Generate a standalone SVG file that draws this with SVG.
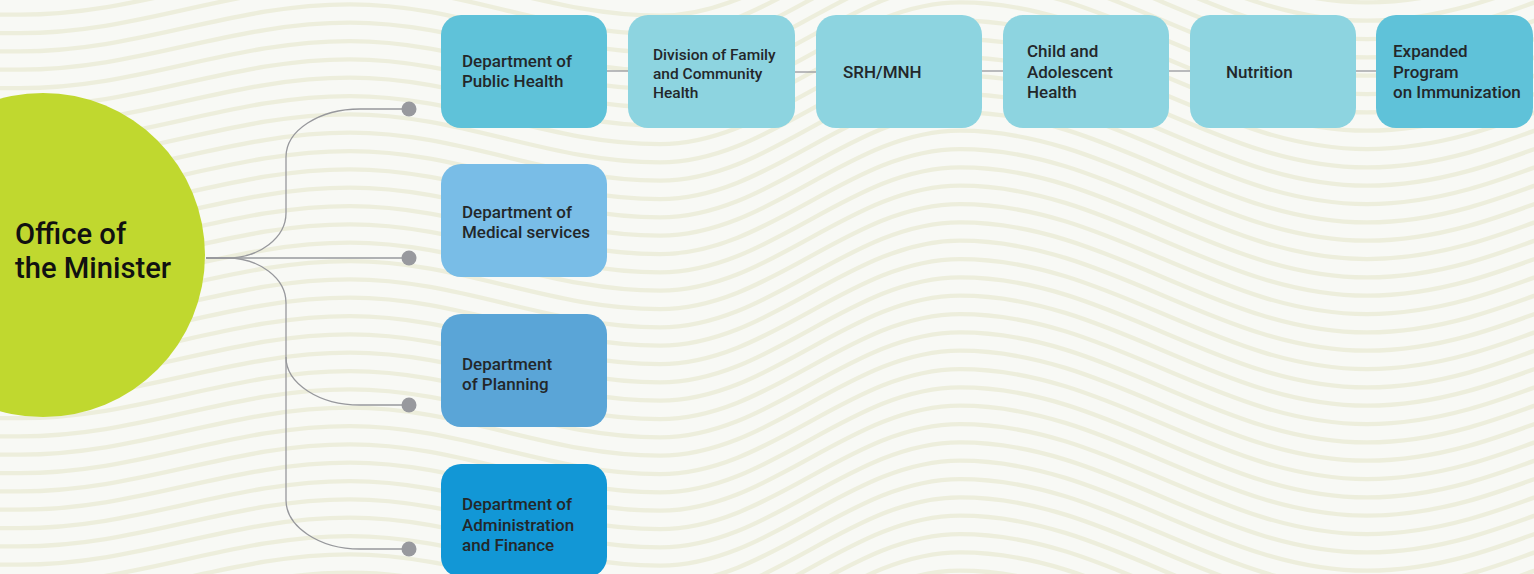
<svg xmlns="http://www.w3.org/2000/svg" xmlns:xlink="http://www.w3.org/1999/xlink" width="1534" height="574" viewBox="0 0 1534 574">
  <style>
    .wave { fill: none; stroke: #edeedc; stroke-width: 4.3; }
    .link { fill: none; stroke: #97989c; stroke-width: 1.3; }
    .dot { fill: #98999e; }
    .box { stroke: none; }
    .lbl { font-family: Roboto, "Liberation Sans", sans-serif; font-weight: 500; fill: #23272a; }
    .big { font-size: 17px; }
    .small { font-size: 15.5px; }
    .title { font-family: Roboto, "Liberation Sans", sans-serif; font-weight: 500; font-size: 29.2px; fill: #111111; }
  </style>
  <defs>
    <!-- one background stripe; repeated vertically below -->
    <path id="stripe" class="wave" d="M-20,44 L20,44 C140.2,44 229.8,-3 350,-3 C462.9,-3 547.1,45 660,45 C769.3,45 850.7,-60 960,-60 C1108.2,-60 1218.8,50 1367,50 C1510.1,50 1616.9,-45 1760,-45"/>
  </defs>

  <!-- background -->
  <rect x="0" y="0" width="1534" height="574" fill="#f8f9f5"/>
  <g id="background-stripes">
    <use xlink:href="#stripe" y="-65.9"/>
    <use xlink:href="#stripe" y="-47.6"/>
    <use xlink:href="#stripe" y="-29.3"/>
    <use xlink:href="#stripe" y="-10.9"/>
    <use xlink:href="#stripe" y="7.4"/>
    <use xlink:href="#stripe" y="25.7"/>
    <use xlink:href="#stripe" y="44.1"/>
    <use xlink:href="#stripe" y="62.4"/>
    <use xlink:href="#stripe" y="80.7"/>
    <use xlink:href="#stripe" y="99.1"/>
    <use xlink:href="#stripe" y="117.4"/>
    <use xlink:href="#stripe" y="135.7"/>
    <use xlink:href="#stripe" y="154.1"/>
    <use xlink:href="#stripe" y="172.4"/>
    <use xlink:href="#stripe" y="190.7"/>
    <use xlink:href="#stripe" y="209.1"/>
    <use xlink:href="#stripe" y="227.4"/>
    <use xlink:href="#stripe" y="245.7"/>
    <use xlink:href="#stripe" y="264.1"/>
    <use xlink:href="#stripe" y="282.4"/>
    <use xlink:href="#stripe" y="300.7"/>
    <use xlink:href="#stripe" y="319.1"/>
    <use xlink:href="#stripe" y="337.4"/>
    <use xlink:href="#stripe" y="355.7"/>
    <use xlink:href="#stripe" y="374.1"/>
    <use xlink:href="#stripe" y="392.4"/>
    <use xlink:href="#stripe" y="410.7"/>
    <use xlink:href="#stripe" y="429.1"/>
    <use xlink:href="#stripe" y="447.4"/>
    <use xlink:href="#stripe" y="465.7"/>
    <use xlink:href="#stripe" y="484.1"/>
    <use xlink:href="#stripe" y="502.4"/>
    <use xlink:href="#stripe" y="520.7"/>
    <use xlink:href="#stripe" y="539.1"/>
    <use xlink:href="#stripe" y="557.4"/>
    <use xlink:href="#stripe" y="575.7"/>
    <use xlink:href="#stripe" y="594.1"/>
    <use xlink:href="#stripe" y="612.4"/>
    <use xlink:href="#stripe" y="630.7"/>
  </g>

  <!-- connectors -->
  <g id="connectors">
    <path class="link" d="M206,258 H409"/>
    <path class="link" d="M206,258 H227 C259.6,258 286,237.6 286,213 V157 C286,130.5 319.1,109 360,109 H409"/>
    <path class="link" d="M206,258 H227 C259.6,258 286,278.4 286,303 V357 C286,383.5 319.1,405 360,405 H409"/>
    <path class="link" d="M286,357 V500 C286,526.5 319.1,549 360,549 H409"/>
    <circle class="dot" cx="409" cy="109" r="7.5"/>
    <circle class="dot" cx="409" cy="258" r="7.5"/>
    <circle class="dot" cx="409" cy="405" r="7.5"/>
    <circle class="dot" cx="409" cy="549" r="7.5"/>
    <path class="link" d="M607,71 H628"/>
    <path class="link" d="M795,72 H816"/>
    <path class="link" d="M982,71 H1003"/>
    <path class="link" d="M1169,71 H1190"/>
    <path class="link" d="M1356,71 H1376"/>
  </g>

  <!-- root -->
  <g id="office-of-the-minister">
    <circle cx="43" cy="255" r="162" fill="#c0d82f"/>
    <text class="title" x="15" y="243.5">Office of</text>
    <text class="title" x="15" y="278">the Minister</text>
  </g>

  <!-- departments -->
  <g id="dept-public-health">
    <rect class="box" x="441" y="15" width="166" height="113" rx="20" fill="#5fc2d9"/>
    <text class="lbl big" x="462" y="66.5">Department of</text>
    <text class="lbl big" x="462" y="87">Public Health</text>
  </g>
  <g id="dept-medical-services">
    <rect class="box" x="441" y="164" width="166" height="113" rx="20" fill="#79bde7"/>
    <text class="lbl big" x="462" y="217.5">Department of</text>
    <text class="lbl big" x="462" y="237.5">Medical services</text>
  </g>
  <g id="dept-planning">
    <rect class="box" x="441" y="314" width="166" height="113" rx="20" fill="#5aa5d7"/>
    <text class="lbl big" x="462" y="370">Department</text>
    <text class="lbl big" x="462" y="390">of Planning</text>
  </g>
  <g id="dept-administration-finance">
    <rect class="box" x="441" y="464" width="166" height="113" rx="20" fill="#1297d6"/>
    <text class="lbl big" x="462" y="510">Department of</text>
    <text class="lbl big" x="462" y="530.5">Administration</text>
    <text class="lbl big" x="462" y="551">and Finance</text>
  </g>

  <!-- public health chain -->
  <g id="division-family-community-health">
    <rect class="box" x="628" y="15" width="167" height="113" rx="20" fill="#8dd4e0"/>
    <text class="lbl small" x="653" y="60">Division of Family</text>
    <text class="lbl small" x="653" y="79">and Community</text>
    <text class="lbl small" x="653" y="97.5">Health</text>
  </g>
  <g id="srh-mnh">
    <rect class="box" x="816" y="15" width="166" height="113" rx="20" fill="#8dd4e0"/>
    <text class="lbl big" x="843" y="78">SRH/MNH</text>
  </g>
  <g id="child-adolescent-health">
    <rect class="box" x="1003" y="15" width="166" height="113" rx="20" fill="#8dd4e0"/>
    <text class="lbl big" x="1027" y="57">Child and</text>
    <text class="lbl big" x="1027" y="77.5">Adolescent</text>
    <text class="lbl big" x="1027" y="98">Health</text>
  </g>
  <g id="nutrition">
    <rect class="box" x="1190" y="15" width="166" height="113" rx="20" fill="#8dd4e0"/>
    <text class="lbl big" x="1226" y="78">Nutrition</text>
  </g>
  <g id="expanded-program-immunization">
    <rect class="box" x="1376" y="15" width="157" height="113" rx="20" fill="#5fc2d9"/>
    <text class="lbl big" x="1393" y="57">Expanded</text>
    <text class="lbl big" x="1393" y="77.5">Program</text>
    <text class="lbl big" x="1393" y="98">on Immunization</text>
  </g>
</svg>
